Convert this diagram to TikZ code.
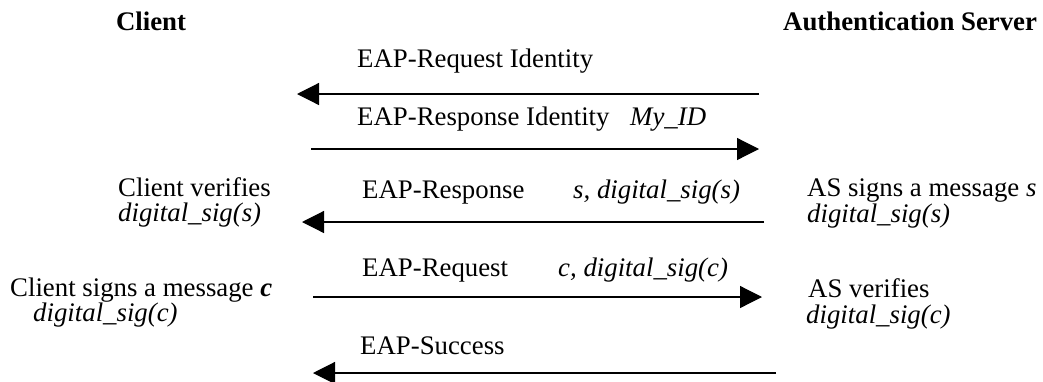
\documentclass[tikz,border=0pt]{standalone}
\usepackage{fontspec}
\setmainfont{Liberation Serif}
\usepackage{tikz}
\usetikzlibrary{arrows.meta,positioning,calc}

\begin{document}
\begin{tikzpicture}[x=1pt,y=-1pt,
        msg/.style={-{Triangle[length=22pt,width=22pt]}, line width=1.2pt},
        lbl/.style={anchor=base west, inner sep=0pt, font=\fontsize{26.8}{32}\selectfont},
        hdr/.style={lbl, font=\fontsize{26.8}{32}\selectfont\bfseries}]
        \useasboundingbox (0,0) rectangle (1043,381);

        % parties
        \node[hdr, anchor=base] (client) at (151,30) {Client};
        \node[hdr] (server) at (783,30) {Authentication Server};

        % end points of the messages
        \coordinate (c1) at (297,94);  \coordinate (s1) at (759,94);
        \coordinate (c2) at (311,149); \coordinate (s2) at (759,149);
        \coordinate (c3) at (302,222); \coordinate (s3) at (764,222);
        \coordinate (c4) at (313,297); \coordinate (s4) at (762,297);
        \coordinate (c5) at (313,373); \coordinate (s5) at (776,373);

        % identity exchange
        \draw[msg] (s1) -- (c1);
        \node[lbl] (req) at (357,67) {EAP-Request Identity};
        \draw[msg] (c2) -- (s2);
        \node[lbl] (resp) at (357,125) {EAP-Response Identity};
        \node[lbl] (myid) at (630,125) {\textit{My\_ID}};

        % server signs
        \draw[msg] (s3) -- (c3);
        \node[lbl] (resps) at (362,198) {EAP-Response};
        \node[lbl] (sigs) at (573,198) {\textit{s, digital\_sig(s)}};
        \node[lbl] (cver) at (118,196) {Client verifies};
        \node[lbl] (cvers) at (118,221) {\textit{digital\_sig(s)}};
        \node[lbl] (assign) at (807,196) {AS signs a message \textit{s}};
        \node[lbl] (assigs) at (807,222) {\textit{digital\_sig(s)}};

        % client signs
        \draw[msg] (c4) -- (s4);
        \node[lbl] (reqc) at (362,276) {EAP-Request};
        \node[lbl] (sigc) at (558,276) {\textit{c, digital\_sig(c)}};
        \node[lbl] (csign) at (10,296) {Client signs a message \textbf{\textit{c}}};
        \node[lbl] (csigc) at (33,321) {\textit{digital\_sig(c)}};
        \node[lbl] (asver) at (808,297) {AS verifies};
        \node[lbl] (asvers) at (806,323) {\textit{digital\_sig(c)}};

        % done
        \draw[msg] (s5) -- (c5);
        \node[lbl] (succ) at (360,354) {EAP-Success};
    \end{tikzpicture}
\end{document}
